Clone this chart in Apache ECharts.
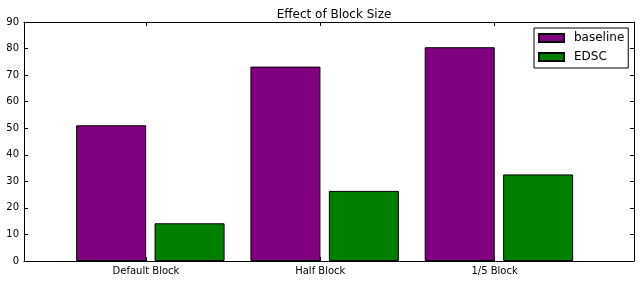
<!DOCTYPE html>
<html><head><meta charset="utf-8">
<script src="https://cdn.jsdelivr.net/npm/echarts@6/dist/echarts.min.js"></script>
<style>html,body{margin:0;padding:0;background:#fff}#c{width:640px;height:282px}</style>
</head><body><div id="c"></div>
<script>
const categories = ['Default Block', 'Half Block', '1/5 Block'];
const baseline = [51.1, 73.2, 80.5];
const edsc = [14.2, 26.4, 32.6];
const yTicks = [0, 10, 20, 30, 40, 50, 60, 70, 80, 90];

const FONT = 'DejaVu Sans';
const idx = categories.map((_, i) => i);
const baseData = baseline.map((v, i) => [i - 0.2, v]);
const edscData = edsc.map((v, i) => [i + 0.25, v]);

const xCommon = {
  type: 'value', min: -0.7, max: 2.8,
  axisLine: { show: true, onZero: false, lineStyle: { color: '#000', width: 1 } },
  axisTick: { show: true, inside: true, length: 4, customValues: idx, lineStyle: { color: '#000' } },
  splitLine: { show: false }
};
const yCommon = {
  type: 'value', min: 0, max: 90, interval: 10,
  axisLine: { show: true, onZero: false, lineStyle: { color: '#000', width: 1 } },
  axisTick: { show: true, inside: true, length: 4, lineStyle: { color: '#000' } },
  splitLine: { show: false }
};

const chart = echarts.init(document.getElementById('c'), null, { renderer: 'canvas' });
chart.setOption({
  animation: false,
  backgroundColor: '#fff',
  title: {
    text: 'Effect of Block Size', left: 329, top: 4, textAlign: 'center',
    textStyle: { fontFamily: FONT, fontSize: 12, fontWeight: 'normal', color: '#000' }
  },
  legend: {
    orient: 'vertical', left: 534, top: 28,
    icon: 'rect',
    itemWidth: 25, itemHeight: 8, itemGap: 7,
    padding: [4, 4, 5, 4],
    borderColor: '#000', borderWidth: 1, backgroundColor: '#fff',
    textStyle: { fontFamily: FONT, fontSize: 12, color: '#000', padding: [0, 0, 0, 5] },
    data: ['baseline', 'EDSC']
  },
  grid: { left: 24, right: 6, top: 22, bottom: 21 },
  xAxis: [
    Object.assign({}, xCommon, {
      position: 'bottom',
      axisLabel: {
        show: true, customValues: idx, margin: 5,
        fontFamily: FONT, fontSize: 10, color: '#000',
        formatter: v => categories[Math.round(v)]
      }
    }),
    Object.assign({}, xCommon, { position: 'top', axisLabel: { show: false } })
  ],
  yAxis: [
    Object.assign({}, yCommon, {
      position: 'left',
      axisLabel: { show: true, margin: 5, fontFamily: FONT, fontSize: 10, color: '#000',
        customValues: yTicks }
    }),
    Object.assign({}, yCommon, { position: 'right', axisLabel: { show: false } })
  ],
  series: [
    {
      name: 'baseline', type: 'bar', xAxisIndex: 0, yAxisIndex: 0,
      data: baseData, barWidth: 70, barGap: '-100%',
      itemStyle: { color: '#800080', borderColor: '#000', borderWidth: 1 }
    },
    {
      name: 'EDSC', type: 'bar', xAxisIndex: 0, yAxisIndex: 0,
      data: edscData, barWidth: 70, barGap: '-100%',
      itemStyle: { color: '#008000', borderColor: '#000', borderWidth: 1 }
    }
  ]
});
</script>
</body></html>
